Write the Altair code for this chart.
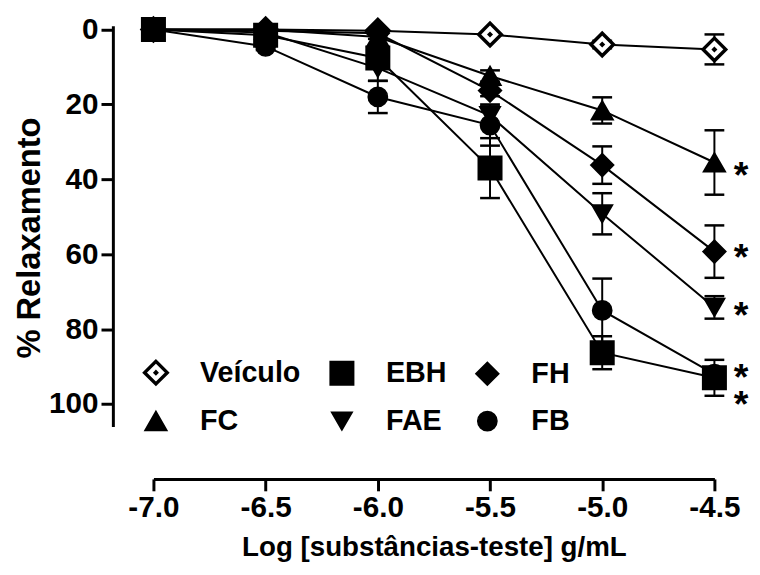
import altair as alt
import pandas as pd

log_conc = [-7.0, -6.5, -6.0, -5.5, -5.0, -4.5]
series_names = ["Veículo", "EBH", "FH", "FC", "FAE", "FB"]

veiculo_mean = [0, 0, 0.3, 1.3, 4.0, 5.3]
veiculo_sem = [0, 0, 0, 0.5, 1.0, 4.0]
ebh_mean = [0, 1.5, 7.6, 37.0, 86.3, 93.0]
ebh_sem = [0, 0.5, 2.0, 8.0, 4.4, 4.8]
fh_mean = [0, 0.3, 1.0, 16.3, 36.2, 59.3]
fh_sem = [0, 0, 0.5, 1.5, 5.0, 7.0]
fc_mean = [0, 0, 2.0, 12.4, 21.6, 35.5]
fc_sem = [0, 0, 0.5, 1.5, 3.5, 8.6]
fae_mean = [0, 0.8, 10.3, 23.0, 49.2, 74.2]
fae_sem = [0, 0.5, 3.4, 2.5, 5.5, 3.0]
fb_mean = [0, 4.5, 18.0, 25.5, 75.0, 92.0]
fb_sem = [0, 1.0, 4.3, 5.5, 8.5, 1.5]

star_series = ["FC", "FH", "FAE", "EBH", "FB"]
star_y = [38.0, 60.0, 75.5, 92.0, 99.2]

means = [veiculo_mean, ebh_mean, fh_mean, fc_mean, fae_mean, fb_mean]
sems = [veiculo_sem, ebh_sem, fh_sem, fc_sem, fae_sem, fb_sem]

rows = []
for name, m, s in zip(series_names, means, sems):
    for xv, mv, sv in zip(log_conc, m, s):
        rows.append({"series": name, "x": xv, "mean": mv, "sem": sv,
                     "lo": mv - sv, "hi": mv + sv})
df = pd.DataFrame(rows)
df_star = pd.DataFrame({"series": star_series, "x": [log_conc[-1]] * len(star_series), "y": star_y})

FONT = "Liberation Sans, Arial, sans-serif"
open_diamond = "M-1,0L0,-1L1,0L0,1Z M-0.05,0L0,-0.05L0.05,0L0,0.05Z"

xscale = alt.Scale(domain=[-7.0, -4.5], nice=False, zero=False)
yscale = alt.Scale(domain=[-1, 106], reverse=True, nice=False, zero=False)

x_enc = alt.X("x:Q", scale=xscale, title="Log [substâncias-teste] g/mL",
              axis=alt.Axis(values=log_conc,
                            labelExpr="(datum.value < 0 ? '-' : '') + format(abs(datum.value), '.1f')",
                            offset=53, tickSize=12, labelFlush=False,
                            tickWidth=3, domainWidth=3, domainColor="black", tickColor="black",
                            labelFontSize=30, labelFontWeight="bold", labelFont=FONT,
                            labelColor="black", labelPadding=2, grid=False,
                            titleFontSize=28, titleFontWeight="bold", titleFont=FONT,
                            titleColor="black", titlePadding=11))
y_enc = alt.Y("mean:Q", scale=yscale, title="% Relaxamento",
              axis=alt.Axis(values=[0, 20, 40, 60, 80, 100], offset=41, tickSize=12,
                            labelFlush=False,
                            tickWidth=3, domainWidth=3, domainColor="black", tickColor="black",
                            labelFontSize=30, labelFontWeight="bold", labelFont=FONT,
                            labelColor="black", labelPadding=3, grid=False,
                            titleFontSize=33, titleFontWeight="bold", titleFont=FONT,
                            titleColor="black", titlePadding=2, titleY=214))

legend = alt.Legend(title=None, orient="none", legendX=-12, legendY=336, columns=3,
                    direction="horizontal",
                    labelFontSize=29, labelFontWeight="bold", labelFont=FONT,
                    labelColor="black", symbolStrokeColor="black",
                    columnPadding=24, rowPadding=16, labelOffset=30, padding=0,
                    symbolOpacity=1)

base = alt.Chart(df)

lines = base.mark_line(color="black", strokeWidth=2).encode(
    x=x_enc, y=y_enc, detail="series:N")

err = base.transform_filter("datum.sem > 0")
rules = err.mark_rule(color="black", strokeWidth=2).encode(
    x="x:Q", y="lo:Q", y2="hi:Q")
cap_lo = err.mark_tick(color="black", orient="horizontal", size=20, thickness=2.5, opacity=1).encode(
    x="x:Q", y="lo:Q")
cap_hi = err.mark_tick(color="black", orient="horizontal", size=20, thickness=2.5, opacity=1).encode(
    x="x:Q", y="hi:Q")

points = base.mark_point(filled=True, opacity=1).encode(
    x="x:Q", y="mean:Q",
    shape=alt.Shape("series:N", scale=alt.Scale(domain=series_names,
                    range=[open_diamond, "square", "diamond", "triangle-up", "triangle-down", "circle"]),
                    legend=legend),
    fill=alt.Fill("series:N", scale=alt.Scale(domain=series_names,
                  range=["white", "black", "black", "black", "black", "black"]), legend=legend),
    stroke=alt.Stroke("series:N", scale=alt.Scale(domain=series_names,
                      range=["black"] * 6), legend=legend),
    strokeWidth=alt.StrokeWidth("series:N", scale=alt.Scale(domain=series_names,
                                range=[3.5, 1.5, 1.5, 1.5, 1.5, 1.5]), legend=legend),
    size=alt.Size("series:N", scale=alt.Scale(domain=series_names,
                  range=[520, 380, 530, 420, 420, 380]), legend=legend),
)

stars = alt.Chart(df_star).mark_text(text="*", fontSize=38, fontWeight="bold", font=FONT,
                                     color="black", dx=27, dy=5, baseline="middle",
                                     align="center").encode(x="x:Q", y="y:Q")

chart = alt.layer(lines, rules, cap_lo, cap_hi, points, stars).properties(
    width=567, height=405,
    autosize=alt.AutoSizeParams(type="none"),
    padding={"left": 147, "top": 15, "right": 38, "bottom": 138},
    background="white",
).configure_view(stroke=None)

chart.save("out.html", embed_options={"renderer": "svg", "actions": False})
